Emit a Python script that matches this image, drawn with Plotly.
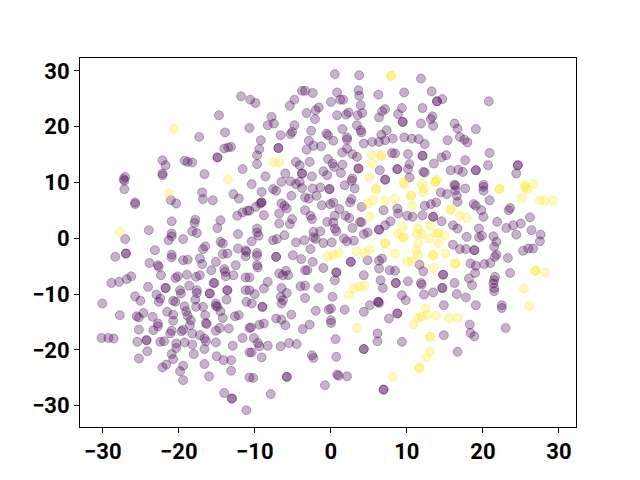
import plotly.graph_objects as go

purple_upper_left = [
(-11.7,25.6),(-14.6,22.2),(-13.8,19.1),(-17.2,18.3),(-13.0,16.5),(-13.4,16.4),(-13.9,16.2),(-14.8,14.6),(-14.8,14.6),
(-22.0,14.1),(-21.6,13.2),(-19.1,14.0),(-18.7,13.8),(-18.1,13.7),(-16.5,11.6),(-11.5,12.5),(-22.0,11.7),(-22.0,11.4),
(-26.9,11.1),(-27.1,10.7),(-27.0,10.4),(-27.0,8.9),(-20.9,6.9),(-20.2,6.3),(-16.8,8.3),(-16.7,7.1),(-15.4,6.9),
(-12.7,8.0),(-12.0,7.2),(-25.6,6.5),(-25.6,6.2),(-12.2,4.1),(-11.5,4.7),(-10.9,5.0),(-10.6,5.0),(-14.4,3.3),
(-17.7,3.4),(-17.8,2.8),(-14.8,1.9),(-20.8,3.1),(-18.1,1.3),(-17.5,1.0),(-23.8,1.5),(-12.1,0.8),(-20.8,0.9),(-20.8,0.4),
(-21.2,-0.3),(-19.3,-0.1),(-26.9,-0.1),
]
purple_middle_left = [
(-14.4,-0.6),(-14.1,-0.9),(-16.4,-1.4),(-16.7,-1.9),(-23.0,-2.1),(-12.1,-1.8),(-11.1,-2.1),(-11.1,-3.2),(-26.8,-2.7),(-26.8,-2.7),
(-28.2,-3.3),(-20.8,-2.9),(-20.8,-3.4),(-14.1,-2.8),(-13.5,-2.7),(-19.3,-3.9),(-18.7,-3.8),(-17.1,-3.6),(-16.8,-4.6),(-15.0,-4.2),
(-23.7,-4.4),(-22.6,-4.8),(-22.5,-5.1),(-12.4,-4.8),(-15.6,-5.7),(-13.9,-5.5),(-13.8,-6.0),(-22.2,-6.6),(-18.8,-6.5),(-20.0,-6.8),
(-20.3,-7.1),(-17.6,-6.9),(-17.1,-6.6),(-13.7,-6.8),(-12.7,-6.6),(-11.1,-7.0),(-10.6,-7.0),(-26.1,-6.8),(-26.7,-7.3),(-27.7,-7.8),
(-28.7,-8.0),(-15.2,-8.0),(-15.3,-8.0),(-23.9,-8.7),(-21.6,-8.9),(-21.6,-8.9),(-18.5,-8.5),(-19.7,-9.3),(-19.6,-9.9),(-17.5,-9.3),
(-17.5,-9.8),(-13.5,-9.3),(-13.5,-9.3),(-11.1,-9.3),(-10.6,-9.3),(-22.8,-10.1),(-15.8,-9.9),(-15.8,-9.9),(-25.6,-10.4),(-24.9,-11.2),
(-22.3,-10.8),(-22.5,-11.4),(-17.7,-11.0),(-13.6,-11.0),(-20.6,-11.2),(-20.3,-11.4),(-29.9,-11.7),(-15.0,-11.7),(-11.0,-11.4),
]
purple_lower_left = [
(-27.6,-13.8),(-25.4,-14.0),(-25.1,-14.2),(-24.5,-13.4),(-23.3,-14.1),(-21.4,-13.2),(-20.6,-13.7),(-20.6,-14.8),(-22.6,-15.3),(-22.6,-15.8),
(-25.1,-16.4),(-23.2,-16.5),(-21.0,-17.1),(-20.8,-16.6),(-19.5,-16.7),(-19.3,-16.4),(-19.1,-12.2),(-18.9,-13.1),(-18.7,-13.9),(-18.3,-14.7),
(-18.4,-15.6),(-17.6,-12.3),(-16.7,-12.3),(-16.4,-13.8),(-16.3,-15.2),(-16.2,-15.4),(-15.0,-12.1),(-14.8,-12.3),(-14.4,-13.1),(-14.1,-14.3),
(-12.5,-14.0),(-12.0,-13.8),(-10.6,-16.1),(-14.5,-16.1),(-15.0,-16.6),(-13.3,-16.2),(-18.1,-17.1),(-17.1,-17.4),(-16.5,-18.0),(-16.3,-18.5),
(-11.5,-17.9),(-30.0,-17.9),(-29.1,-17.9),(-28.4,-18.0),(-25.3,-18.6),(-24.1,-18.3),(-24.1,-18.3),(-22.3,-18.6),(-21.8,-18.5),(-19.1,-18.7),
(-20.2,-18.9),(-20.2,-19.7),(-18.1,-19.1),(-15.0,-18.7),(-12.8,-19.3),(-16.5,-19.9),(-10.6,-20.5),(-24.0,-20.3),(-20.8,-20.8),(-17.9,-20.8),
(-25.1,-21.6),(-20.6,-21.7),(-14.9,-21.2),(-14.0,-21.9),(-13.0,-21.9),(-21.5,-22.7),(-22.0,-23.2),(-16.5,-22.6),(-19.3,-22.9),(-19.7,-23.9),
(-13.0,-23.8),(-15.9,-24.8),(-19.3,-25.5),(-10.6,-25.0),(-13.9,-27.8),(-12.9,-28.8),(-12.9,-28.8),(-11.0,-30.9),
]
purple_upper_middle = [
(0.6,29.6),(3.8,29.4),(-3.7,26.6),(-3.3,26.6),(-2.3,26.2),(0.9,26.3),(3.7,26.7),(3.8,25.7),(6.3,25.9),(9.7,26.3),
(-10.5,25.0),(-9.8,24.4),(-4.7,25.0),(-5.3,23.9),(0.1,24.6),(1.3,25.0),(1.7,25.0),(4.0,24.0),(-1.5,23.6),(-1.9,23.1),
(-3.1,22.6),(-2.0,21.5),(0.9,22.2),(2.1,22.3),(2.4,22.7),(3.6,22.2),(4.2,22.6),(7.2,23.3),(6.8,22.9),(6.4,21.8),
(9.4,23.5),(8.9,22.4),(9.5,21.0),(9.5,21.0),(-7.7,21.9),(-7.4,20.7),(-8.2,20.4),(-4.7,20.4),(-10.6,19.9),(3.5,20.4),
(4.0,19.5),(4.1,19.1),(1.6,19.7),(-2.5,19.4),(7.4,19.5),(-6.5,18.6),(-5.2,18.8),(-5.0,19.2),(-0.5,18.9),(-0.3,18.6),
(6.7,18.7),(2.2,18.2),(2.2,17.8),(-2.8,17.6),(0.4,17.6),(-9.1,17.7),(4.4,17.1),(5.5,17.4),(6.4,17.4),(7.2,17.7),
(8.2,18.0),(9.7,18.2),(10.7,18.0),(-2.2,16.7),(-1.2,16.6),(-3.1,16.0),(-6.8,16.3),(-6.8,16.3),(-9.3,16.1),(-9.6,15.0),
(2.2,16.2),(1.6,15.5),(2.9,15.2),(3.5,14.7),(8.1,15.4),(8.5,15.3),(10.2,15.2),(-9.6,13.4),(-2.7,13.8),(-4.5,13.8),
(-4.0,13.2),(-0.3,14.3),(0.3,13.5),(0.5,12.9),(1.6,13.3),(3.7,12.6),(3.7,12.6),(6.5,12.3),(8.8,12.5),(8.8,12.5),
(10.4,13.4),(10.2,12.5),(-5.9,11.7),(-3.7,11.7),(-3.7,11.7),(-0.9,12.1),(-0.4,11.4),(1.4,11.8),(-8.5,11.2),(-2.4,11.2),
(2.9,10.8),(7.2,10.6),(7.2,10.6),(10.4,11.0),(-6.4,10.2),(-5.2,10.3),(-4.0,10.2),
]
purple_centre = [
(-10.3,9.8),(-9.0,8.4),(-7.5,8.9),(-7.1,8.6),(-4.5,9.8),(-3.7,9.1),(-2.3,9.0),(-1.3,9.2),(-0.1,8.9),(-0.1,8.9),
(1.9,9.6),(3.2,9.0),(2.8,10.4),(-5.1,7.7),(-3.3,7.4),(-2.8,7.2),(-1.8,7.7),(-9.0,6.5),(-9.0,6.5),(-9.2,6.3),
(-1.1,6.0),(0.0,6.2),(0.4,6.5),(2.8,7.1),(2.6,6.5),(-9.8,5.7),(-8.7,4.2),(-6.4,6.3),(-6.0,5.9),(-5.7,5.4),
(-6.7,4.5),(-3.3,5.1),(-2.6,4.1),(-2.4,3.5),(1.2,5.3),(0.6,4.1),(2.0,4.1),(2.5,3.7),(4.1,5.7),(7.0,5.1),
(8.8,5.4),(8.9,4.5),(10.1,4.1),(10.8,3.9),(-6.7,2.7),(-5.0,3.5),(-5.3,2.6),(-0.4,3.0),(0.4,2.9),(0.6,1.8),
(0.8,1.3),(3.9,3.0),(4.1,2.9),(2.9,1.9),(7.9,3.1),(7.2,2.4),(6.4,1.6),(6.4,1.6),(-9.6,1.8),(-9.6,1.1),
(-9.4,0.5),(-6.0,0.6),(-2.2,1.2),(-1.3,1.3),(-2.2,0.2),(-1.9,-0.1),(4.4,0.8),(4.9,1.1),(-10.3,-0.5),(-7.0,-0.1),
(-7.5,-0.3),(-4.5,-0.7),(-3.4,-0.3),(-0.9,-0.8),(0.2,-0.7),(1.8,0.0),(2.2,-0.5),(3.1,-0.4),(-2.6,-1.9),(-11.0,-2.4),
(-9.6,-2.6),(-9.6,-3.1),(-9.5,-5.2),(-9.6,-4.8),(-7.1,-3.3),(-7.1,-3.3),(-4.9,-3.0),(-3.8,-3.7),(-2.3,-4.2),(2.7,-4.2),
(2.7,-4.2),(4.9,-3.9),(6.4,-4.0),(6.8,-3.6),(-0.9,-5.3),(-3.3,-5.7),(-3.0,-5.7),(0.8,-6.1),(0.8,-6.1),(4.4,-6.6),
(6.4,-5.4),(7.8,-5.7),(8.5,-5.8),(-6.7,-6.3),(-5.8,-5.8),(-6.2,-6.6),(-5.5,-6.6),(0.6,-7.5),(-8.2,-7.8),(-8.7,-9.0),
(6.6,-7.5),(6.9,-8.9),(8.6,-8.0),(8.6,-8.0),(10.2,-7.7),(-9.9,-10.0),(-6.4,-8.9),(-5.7,-9.8),(-3.9,-8.6),(-3.3,-8.5),
(-1.5,-8.9),(-6.5,-10.5),(-6.2,-11.1),(-6.4,-11.7),(-3.3,-10.7),(0.3,-10.5),(9.4,-10.2),(9.9,-11.1),(6.3,-11.4),(6.3,-11.4),
]
purple_lower_middle = [
(-8.9,-12.3),(-8.9,-12.3),(-10.3,-11.7),(-1.9,-13.0),(-0.2,-12.8),(0.1,-12.6),(1.9,-12.8),(4.4,-13.2),(5.2,-12.0),(6.4,-11.6),
(-5.1,-13.7),(-7.1,-14.4),(-6.4,-14.6),(-5.9,-15.6),(0.1,-14.7),(0.1,-15.2),(7.7,-14.4),(8.8,-13.5),(8.8,-13.5),(-10.4,-16.0),
(-9.3,-15.5),(-8.7,-15.3),(-2.7,-15.5),(-3.6,-16.3),(6.2,-17.1),(6.2,-18.5),(-10.0,-17.9),(-9.5,-18.8),(-9.3,-19.4),(-8.2,-19.3),
(-6.5,-19.4),(-5.4,-18.8),(-4.4,-19.0),(0.7,-18.1),(9.4,-18.6),(-10.3,-20.5),(-9.0,-21.4),(-2.4,-21.0),(-2.2,-21.5),(0.8,-21.3),
(4.4,-19.9),(4.4,-19.9),(-10.1,-25.1),(-5.7,-24.9),(-5.7,-24.9),(0.9,-24.5),(1.1,-24.7),(2.2,-24.8),(-0.7,-26.4),(7.0,-27.2),
(7.0,-27.2),(-7.8,-28.0),
]
purple_right = [
(11.9,28.8),(13.3,26.5),(14.7,25.1),(14.0,24.7),(14.0,24.7),(20.8,24.7),(12.1,23.5),(13.4,22.0),(13.2,21.5),(11.9,20.7),
(13.5,20.3),(16.3,20.7),(16.7,19.8),(19.1,19.7),(17.0,18.3),(17.6,17.8),(18.0,17.3),(11.6,17.9),(12.4,17.0),(15.4,17.7),
(20.9,15.4),(12.1,14.9),(12.1,14.9),(15.2,15.0),(14.6,14.6),(13.6,13.5),(17.7,14.1),(20.7,13.2),(24.6,13.2),(24.6,13.2),
(24.4,11.7),(15.8,12.3),(16.8,12.4),(17.4,12.0),(19.1,12.3),(19.1,12.3),(12.2,12.0),(12.4,11.9),(16.3,9.7),(20.1,9.7),
(16.4,9.5),(17.7,9.0),(16.4,8.7),(16.6,7.7),(16.7,6.6),(20.1,9.3),(20.1,8.6),(14.5,8.3),(15.3,8.0),(20.9,6.9),
(18.8,6.2),(19.1,5.9),(13.9,6.5),(13.2,6.2),(12.4,5.9),(19.8,5.1),(20.1,3.9),(23.6,5.5),(23.4,5.1),(13.5,3.9),
(13.5,3.9),(12.1,4.2),(14.6,3.1),(16.1,2.4),(16.7,1.8),(21.9,3.0),(26.2,3.8),(25.0,2.7),(24.0,2.4),(23.1,1.9),
(26.4,1.5),(19.5,1.8),(24.4,0.7),(27.6,0.7),(27.5,-0.5),(17.9,0.3),(19.9,0.5),(19.5,0.2),(21.4,0.4),(21.8,-0.6),
(21.5,-1.5),(16.1,-1.1),(17.0,-1.9),(17.8,-1.9),(18.9,-2.1),(18.9,-2.1),(26.6,-1.8),(26.0,-1.8),(25.3,-2.2),(21.8,-2.9),
(21.6,-3.3),(21.0,-4.4),(20.2,-4.6),(23.3,-3.5),(18.4,-4.5),(19.1,-4.9),(19.0,-6.2),(18.2,-7.2),(18.6,-8.4),(23.6,-6.2),
(11.7,-4.7),(12.2,-5.9),(14.8,-6.5),(14.8,-6.5),(16.3,-8.0),(11.9,-8.0),(12.0,-8.3),(14.7,-8.9),(14.7,-8.9),(13.5,-9.7),
(12.3,-10.1),(16.6,-10.0),(17.8,-10.6),(21.6,-6.9),(21.5,-7.5),(21.4,-8.1),(21.5,-8.9),(21.5,-9.5),(14.9,-12.0),(19.1,-12.0),
(22.5,-12.0),(22.5,-12.5),(18.3,-15.5),(23.0,-16.1),(18.4,-17.0),(18.9,-17.6),(14.9,-17.4),(16.7,-20.4),
]
yellow_left = [
(-20.5,19.8),(-13.4,10.6),(-21.2,8.1),(-27.6,1.2),(-7.4,13.7),(-6.7,13.7),
]
yellow_middle = [
(8.0,29.3),(8.0,29.3),(5.4,15.1),(6.7,14.9),(6.7,14.9),(5.5,13.5),(5.1,11.0),(9.6,10.2),(5.6,6.9),(4.9,6.3),
(6.0,8.9),(6.0,8.9),(7.2,6.8),(8.5,7.2),(9.7,9.8),(10.6,7.7),(10.6,7.7),(10.7,5.9),(5.2,3.9),(9.5,2.1),
(8.8,0.9),(9.6,0.2),(9.6,0.2),(7.2,-0.9),(7.2,-0.9),(8.5,-2.7),(10.1,-4.1),(10.7,-4.1),(-0.3,-3.2),(0.4,-3.0),
(1.1,-2.6),(3.4,-2.3),(4.5,-2.6),(5.1,-2.0),(2.4,-10.2),(3.1,-9.0),(3.9,-8.6),(4.5,-8.5),(3.5,-16.1),(8.2,-24.9),
]
yellow_right = [
(14.0,10.6),(13.8,10.2),(13.8,10.2),(12.0,9.8),(25.5,9.6),(26.7,9.8),(22.2,8.9),(22.2,8.9),(25.6,9.2),(25.8,8.8),
(25.1,7.3),(27.5,6.9),(28.1,6.8),(29.2,6.8),(12.3,9.0),(12.2,8.3),(15.8,5.2),(15.8,5.2),(17.0,4.1),(17.9,3.7),
(11.5,1.8),(11.4,0.8),(12.0,0.8),(13.1,2.3),(13.9,0.9),(14.2,1.0),(15.0,0.6),(13.0,0.0),(14.2,-0.9),(11.5,-0.9),
(11.3,-2.2),(11.5,-3.0),(13.5,-3.0),(13.5,-3.0),(15.1,-2.7),(16.4,-4.5),(16.4,-4.5),(13.6,-5.3),(26.9,-5.8),(26.9,-5.8),
(28.2,-6.1),(25.4,-9.0),(26.1,-12.2),(12.5,-12.6),(11.5,-14.3),(12.0,-14.1),(12.7,-13.8),(13.9,-13.9),(15.6,-14.3),(16.7,-14.3),
(10.9,-15.5),(13.1,-17.7),(13.1,-17.7),(13.1,-20.3),(12.6,-21.4),(11.7,-23.3),(11.7,-23.3),
]
tick_values = [-30, -20, -10, 0, 10, 20, 30]
tick_labels = ["\u221230", "\u221220", "\u221210", "0", "10", "20", "30"]

# The values above were read against a slightly rough scale; this calibrates them to the exact tick spacing.
def calibrate(points):
    return ([p[0] * 1.0029 - 0.08 for p in points], [p[1] * 0.995 - 0.04 for p in points])

purple = (purple_upper_left + purple_middle_left + purple_lower_left + purple_upper_middle
          + purple_centre + purple_lower_middle + purple_right)
yellow = yellow_left + yellow_middle + yellow_right

fig = go.Figure()
for points, rgb in ((purple, "68,1,84"), (yellow, "253,231,37")):
    xs, ys = calibrate(points)
    fig.add_trace(go.Scatter(
        x=xs, y=ys, mode="markers",
        marker=dict(size=9, color=f"rgba({rgb},0.3)", line=dict(width=1, color=f"rgba({rgb},0.3)")),
        showlegend=False,
    ))

axis = dict(
    tickmode="array", tickvals=tick_values, ticktext=tick_labels, showgrid=False, zeroline=False,
    showline=True, mirror=True, linecolor="black", linewidth=1,
    ticks="outside", ticklen=5, tickwidth=1, tickcolor="black",
    tickfont=dict(family="Roboto", size=22, color="black", weight="bold"),
)
fig.update_layout(
    width=640, height=480, margin=dict(l=72, r=72, t=50, b=61, pad=0, autoexpand=False),
    paper_bgcolor="white", plot_bgcolor="white",
    xaxis=dict(axis, range=[-33.0, 32.25]),
    yaxis=dict(axis, range=[-33.8, 32.3]),
)
fig.write_html("out.html")
